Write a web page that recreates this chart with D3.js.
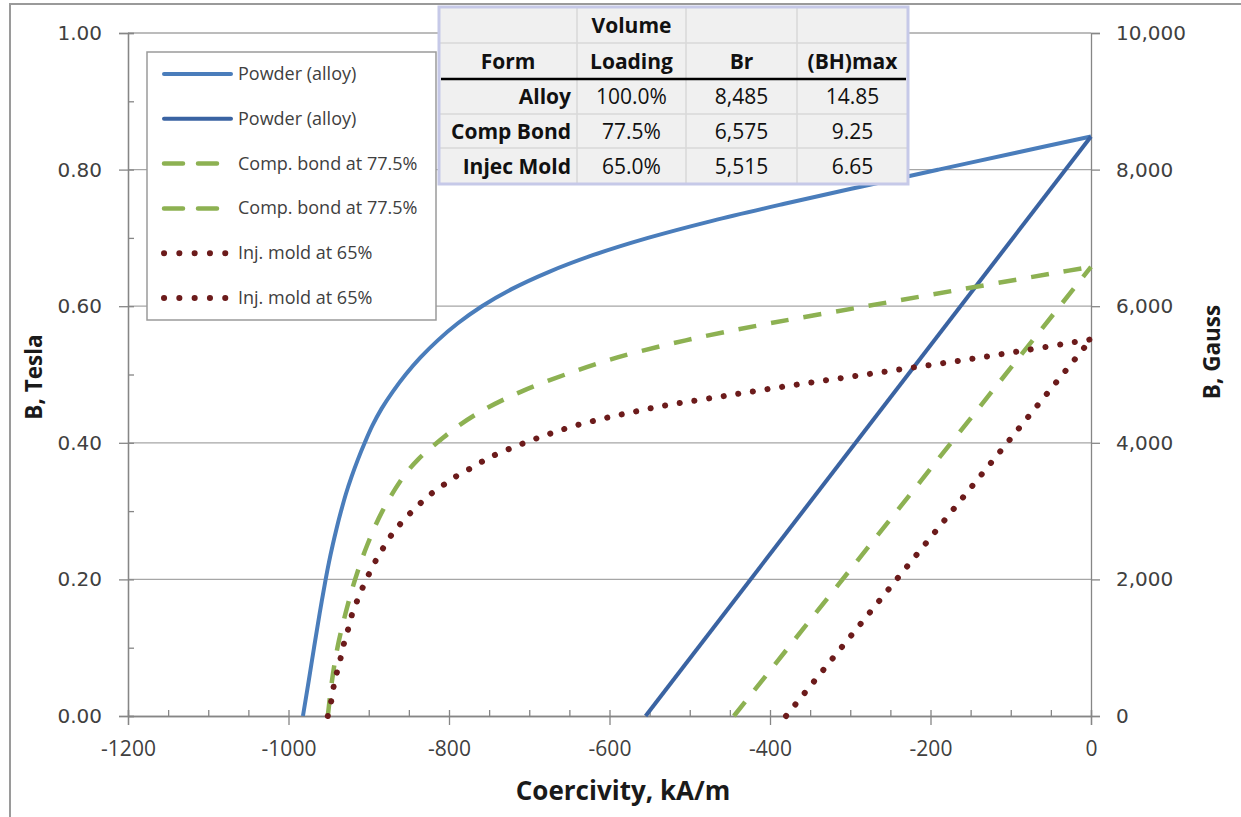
<!DOCTYPE html>
<html><head><meta charset="utf-8">
<script src="https://cdn.jsdelivr.net/npm/d3@7"></script>
<style>body{margin:0;background:#fff;} svg{display:block;}</style>
</head><body><svg id="c" width="1241" height="817"></svg>
<script>
// ---------- data ----------
const xTicks = [-1200, -1000, -800, -600, -400, -200, 0];
const teslaTicks = [0, 0.2, 0.4, 0.6, 0.8, 1.0];
const gaussTicks = [0, 2000, 4000, 6000, 8000, 10000];

const alloyCurveH = [-982,-975,-968.2,-961.2,-953.7,-949.6,-945,-940,-934.5,-928.5,-921.5,-913.7,-905,-895.5,-884,-870,-854,-835.5,-814,-789,-759,-722,-676,-620,-552,-472,-382,-287,-190,-92,0];
const alloyCurveB = [0,0.05,0.1,0.15,0.2,0.225,0.25,0.275,0.3,0.325,0.35,0.375,0.4,0.425,0.45,0.475,0.5,0.525,0.55,0.575,0.6,0.625,0.65,0.675,0.7,0.725,0.75,0.775,0.8,0.825,0.8485];
const alloyLineH = [-555, 0];
const alloyLineB = [0, 0.8485];

const compCurveH = [-951,-946,-939,-929,-917,-902,-883,-857,-839,-815,-788,-754,-710,-655,-590,-505,-400,-280,-160,-38,0];
const compCurveB = [0,0.05,0.1,0.15,0.2,0.25,0.3,0.35,0.375,0.4,0.425,0.45,0.475,0.5,0.525,0.55,0.575,0.6,0.625,0.65,0.6575];
const compLineH = [-445, 0];
const compLineB = [0, 0.6575];

const injCurveH = [-951,-946,-943,-939,-934.6,-930.5,-925.5,-921,-915,-907.6,-900.5,-892,-883,-873.5,-863,-850.7,-837,-823.7,-808.4,-793.8,-777,-761,-745,-710,-675,-640,-602,-567,-529,-454,-379,-304,-229,-154,-79,0];
const injCurveB = [0,0.026,0.048,0.067,0.087,0.108,0.128,0.148,0.167,0.188,0.206,0.226,0.244,0.262,0.278,0.294,0.31,0.324,0.337,0.349,0.36,0.371,0.381,0.398,0.413,0.426,0.437,0.446,0.455,0.469,0.483,0.496,0.509,0.522,0.536,0.5515];
const injLineH = [-380, 0];
const injLineB = [0, 0.5515];

const legendLabels = ["Powder (alloy)", "Powder (alloy)", "Comp. bond at 77.5%", "Comp. bond at 77.5%", "Inj. mold at 65%", "Inj. mold at 65%"];

const tableHeader1 = ["", "Volume", "", ""];
const tableHeader2 = ["Form", "Loading", "Br", "(BH)max"];
const tableForms = ["Alloy", "Comp Bond", "Injec Mold"];
const tableLoading = ["100.0%", "77.5%", "65.0%"];
const tableBr = ["8,485", "6,575", "5,515"];
const tableBH = ["14.85", "9.25", "6.65"];

// ---------- styles ----------
const styles = [
  {stroke: "#4a7dbb", dash: null, legendDash: null, width: 4, cap: "butt"},
  {stroke: "#3a63a2", dash: null, legendDash: null, width: 4, cap: "butt"},
  {stroke: "#8db152", dash: "18,15", legendDash: "19,15,19,100", width: 4.5, cap: "butt"},
  {stroke: "#8db152", dash: "18,15", legendDash: "19,15,19,100", width: 4.5, cap: "butt"},
  {stroke: "#6c1b1b", dash: "0.1,14.7", legendDash: "0.1,15.2", width: 6, cap: "round"},
  {stroke: "#6c1b1b", dash: "0.1,14.7", legendDash: "0.1,15.2", width: 6, cap: "round"}
];
const series = [
  {h: alloyCurveH, b: alloyCurveB, curve: true},
  {h: alloyLineH, b: alloyLineB, curve: false},
  {h: compCurveH, b: compCurveB, curve: true},
  {h: compLineH, b: compLineB, curve: false},
  {h: injCurveH, b: injCurveB, curve: true},
  {h: injLineH, b: injLineB, curve: false}
];

const svg = d3.select("#c");
const L = 128, R = 1091, T = 33, B = 716;
const x = d3.scaleLinear([-1200, 0], [L, R]);
const yT = d3.scaleLinear([0, 1], [B, T]);
const yG = d3.scaleLinear([0, 10000], [B, T]);
const axisColor = "#868686";
const tickFont = "'DejaVu Sans', Verdana, sans-serif";
const textFont = "'Open Sans', sans-serif";

// outer chart border
svg.append("path").attr("d", "M10,817 L10,4 L1241,4").attr("fill", "none").attr("stroke", "#9a9a9a").attr("stroke-width", 2);

// gridlines
svg.append("g").selectAll("line").data(teslaTicks.filter(d => d > 0)).join("line")
  .attr("x1", L).attr("x2", R).attr("y1", d => yT(d)).attr("y2", d => yT(d))
  .attr("stroke", "#a6a6a6").attr("stroke-width", 1.3);

function styleAxis(g) {
  g.selectAll("path.domain").attr("stroke", axisColor).attr("stroke-width", 1.3);
  g.selectAll(".tick line").attr("stroke", axisColor).attr("stroke-width", 1.3);
}

// x axis minor (inside, upward)
svg.append("g").attr("transform", `translate(0,${B})`)
  .call(d3.axisBottom(x).tickValues(d3.range(-1200, 1, 50)).tickSize(-6).tickFormat(""))
  .call(styleAxis);
// x axis major
const gx = svg.append("g").attr("transform", `translate(0,${B})`)
  .call(d3.axisBottom(x).tickValues(xTicks).tickSize(9).tickPadding(16).tickFormat(d => String(d)))
  .call(styleAxis);
gx.selectAll("text").attr("font-family", textFont).attr("font-size", 21).attr("fill", "#404040");

// left axis minor (inside)
svg.append("g").attr("transform", `translate(${L},0)`)
  .call(d3.axisLeft(yT).tickValues(d3.range(0, 1.001, 0.1)).tickSize(-6).tickFormat(""))
  .call(styleAxis);
const gyl = svg.append("g").attr("transform", `translate(${L},0)`)
  .call(d3.axisLeft(yT).tickValues(teslaTicks).tickSize(9).tickPadding(17).tickFormat(d3.format(".2f")))
  .call(styleAxis);
gyl.selectAll("text").attr("font-family", tickFont).attr("font-size", 20).attr("fill", "#404040");

// right axis
const gyr = svg.append("g").attr("transform", `translate(${R},0)`)
  .call(d3.axisRight(yG).tickValues(gaussTicks).tickSize(9).tickPadding(16).tickFormat(d3.format(",")))
  .call(styleAxis);
gyr.selectAll("text").attr("font-family", tickFont).attr("font-size", 20).attr("fill", "#404040");

// axis titles
svg.append("text").attr("x", 623).attr("y", 800).attr("text-anchor", "middle")
  .attr("font-family", textFont).attr("font-weight", "bold").attr("font-size", 26).attr("fill", "#1a1a1a")
  .text("Coercivity, kA/m");
svg.append("text").attr("transform", "translate(42,377) rotate(-90)").attr("text-anchor", "middle")
  .attr("font-family", textFont).attr("font-weight", "bold").attr("font-size", 22.5).attr("fill", "#1a1a1a")
  .text("B, Tesla");
svg.append("text").attr("transform", "translate(1220,352) rotate(-90)").attr("text-anchor", "middle")
  .attr("font-family", textFont).attr("font-weight", "bold").attr("font-size", 22.5).attr("fill", "#1a1a1a")
  .text("B, Gauss");

// series
const lineGen = d3.line().x(d => x(d[0])).y(d => yT(d[1]));
const curveGen = d3.line().x(d => x(d[0])).y(d => yT(d[1])).curve(d3.curveCatmullRom.alpha(0.5));
const gs = svg.append("g");
series.forEach((s, i) => {
  const pts = s.h.map((h, k) => [h, s.b[k]]);
  const st = styles[i];
  gs.append("path").attr("d", (s.curve ? curveGen : lineGen)(pts))
    .attr("fill", "none").attr("stroke", st.stroke).attr("stroke-width", st.width)
    .attr("stroke-dasharray", st.dash).attr("stroke-linecap", st.cap).attr("stroke-linejoin", "round");
});

// legend
const lg = svg.append("g");
lg.append("rect").attr("x", 147).attr("y", 52).attr("width", 289).attr("height", 268)
  .attr("fill", "#fff").attr("stroke", "#9a9a9a").attr("stroke-width", 1.5);
const legendY = d3.scalePoint().domain(d3.range(legendLabels.length)).range([74, 298]);
legendLabels.forEach((lab, i) => {
  const st = styles[i];
  const yy = legendY(i);
  lg.append("line").attr("x1", 164).attr("x2", 231).attr("y1", yy).attr("y2", yy)
    .attr("stroke", st.stroke).attr("stroke-width", st.width)
    .attr("stroke-dasharray", st.legendDash).attr("stroke-linecap", "round");
  lg.append("text").attr("x", 238).attr("y", yy + 6).attr("font-family", textFont).attr("font-size", 18)
    .attr("fill", "#404040").text(lab);
});

// table
const colEdges = [439, 577, 686, 797, 908];
const rowEdges = [7, 43, 79, 114, 148, 184];
const tg = svg.append("g");
tg.append("rect").attr("x", colEdges[0]).attr("y", rowEdges[0]).attr("width", colEdges[4] - colEdges[0])
  .attr("height", rowEdges[5] - rowEdges[0]).attr("fill", "#f0f0f0");
colEdges.slice(1, 4).forEach(cx => tg.append("line").attr("x1", cx).attr("x2", cx).attr("y1", rowEdges[0]).attr("y2", rowEdges[5]).attr("stroke", "#d8d8d8").attr("stroke-width", 1.5));
[rowEdges[1], rowEdges[3], rowEdges[4]].forEach(ry => tg.append("line").attr("x1", colEdges[0]).attr("x2", colEdges[4]).attr("y1", ry).attr("y2", ry).attr("stroke", "#d8d8d8").attr("stroke-width", 1.5));
tg.append("line").attr("x1", colEdges[0] + 2).attr("x2", colEdges[4] - 2).attr("y1", rowEdges[2]).attr("y2", rowEdges[2]).attr("stroke", "#000").attr("stroke-width", 2.6);
tg.append("rect").attr("x", colEdges[0]).attr("y", rowEdges[0]).attr("width", colEdges[4] - colEdges[0])
  .attr("height", rowEdges[5] - rowEdges[0]).attr("fill", "none").attr("stroke", "#c6c9e8").attr("stroke-width", 3);

const colMid = i => (colEdges[i] + colEdges[i + 1]) / 2;
const rowMid = j => (rowEdges[j] + rowEdges[j + 1]) / 2;
function cell(txt, ci, rj, bold, anchor) {
  const xx = anchor === "end" ? colEdges[ci + 1] - 6 : colMid(ci);
  tg.append("text").attr("x", xx).attr("y", rowMid(rj) + 7.5).attr("text-anchor", anchor || "middle")
    .attr("font-family", textFont).attr("font-size", 21).attr("font-weight", bold ? "bold" : "normal")
    .attr("fill", "#111").text(txt);
}
tableHeader1.forEach((t, i) => { if (t) cell(t, i, 0, true); });
tableHeader2.forEach((t, i) => cell(t, i, 1, true));
tableForms.forEach((t, j) => {
  cell(t, 0, j + 2, true, "end");
  cell(tableLoading[j], 1, j + 2, false);
  cell(tableBr[j], 2, j + 2, false);
  cell(tableBH[j], 3, j + 2, false);
});
</script></body></html>
